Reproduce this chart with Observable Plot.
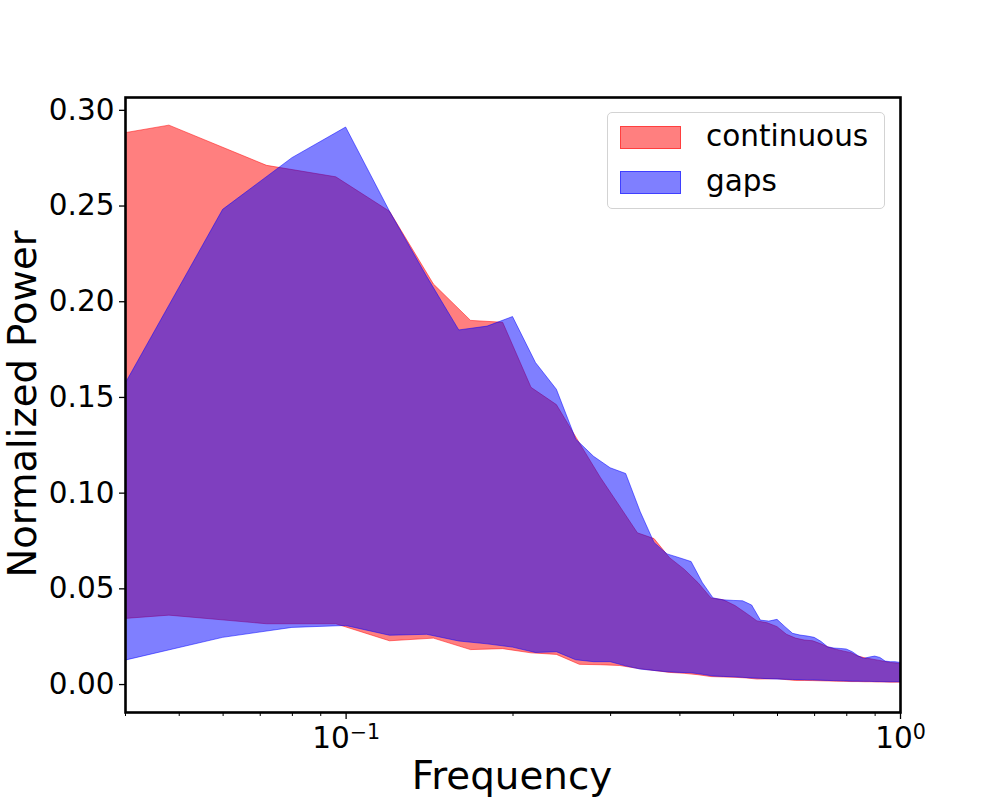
<!DOCTYPE html>
<html>
<head>
<meta charset="utf-8">
<script src="https://cdn.jsdelivr.net/npm/d3@7"></script>
<script src="https://cdn.jsdelivr.net/npm/@observablehq/plot@0.6"></script>
<style>
  body { margin: 0; background: #fff; }
  #wrap { position: relative; width: 1000px; height: 800px; font-family: "DejaVu Sans", sans-serif; }
  .legend { position: absolute; left: 607px; top: 112px; width: 278px; height: 97px; box-sizing: border-box;
            border: 1.3px solid #d3d3d3; border-radius: 5px; background: rgba(255,255,255,0.8); }
  .item { position: absolute; left: 12px; height: 24px; display: flex; align-items: center; }
  .patch { width: 61px; height: 23px; box-sizing: border-box; }
  .lab { margin-left: 25px; font-size: 29.5px; color: #000; line-height: 1; }
  .ylab { position: absolute; left: 23px; top: 404px; transform: translate(-50%, -50%) rotate(-90deg);
          font-size: 38.5px; white-space: nowrap; line-height: 1.1; }
  .xlab { position: absolute; left: 512px; top: 776px; transform: translate(-50%, -50%);
          font-size: 38.8px; white-space: nowrap; line-height: 1; }
</style>
</head>
<body>
<div id="wrap"></div>
<script>
// ---- data ----
const seriesNames = ["continuous", "gaps"];

const freqCont = [0.024, 0.048, 0.072, 0.096, 0.120, 0.144, 0.168, 0.192, 0.216, 0.240,
  0.264, 0.288, 0.312, 0.336, 0.360, 0.384, 0.408, 0.432, 0.456, 0.480,
  0.504, 0.528, 0.552, 0.576, 0.600, 0.624, 0.648, 0.672, 0.696, 0.720,
  0.744, 0.768, 0.792, 0.816, 0.840, 0.864, 0.888, 0.912, 0.936, 0.960,
  0.984, 1.008];
const contHigh = [0.277, 0.292, 0.271, 0.265, 0.247, 0.209, 0.190, 0.189, 0.155, 0.146,
  0.126, 0.108, 0.093, 0.079, 0.076, 0.066, 0.060, 0.053, 0.045, 0.044,
  0.041, 0.037, 0.033, 0.032, 0.030, 0.026, 0.024, 0.023, 0.0226, 0.021,
  0.0192, 0.0181, 0.0172, 0.0164, 0.0146, 0.0137, 0.0131, 0.0125, 0.0119, 0.0113,
  0.011, 0.0108];
const contLow = [0.0295, 0.036, 0.0315, 0.0315, 0.0226, 0.024, 0.018, 0.0185, 0.0163, 0.0155,
  0.0103, 0.0101, 0.0097, 0.0082, 0.0071, 0.0061, 0.0056, 0.0049, 0.0039, 0.0037,
  0.0035, 0.0032, 0.0026, 0.0027, 0.0028, 0.0023, 0.0019, 0.0019, 0.0018, 0.0017,
  0.0016, 0.0015, 0.0014, 0.0013, 0.0013, 0.0012, 0.0012, 0.0011, 0.0011, 0.001,
  0.001, 0.001];

const freqGaps = [0.04, 0.06, 0.08, 0.10, 0.12, 0.14, 0.16, 0.18, 0.20, 0.22,
  0.24, 0.26, 0.28, 0.30, 0.32, 0.34, 0.36, 0.38, 0.40, 0.42,
  0.44, 0.46, 0.48, 0.50, 0.52, 0.54, 0.56, 0.58, 0.60, 0.62,
  0.64, 0.66, 0.68, 0.70, 0.72, 0.74, 0.76, 0.78, 0.80, 0.82,
  0.84, 0.86, 0.88, 0.90, 0.92, 0.94, 0.96, 0.98, 1.00];
const gapsHigh = [0.157, 0.248, 0.275, 0.291, 0.247, 0.213, 0.185, 0.187, 0.192, 0.168,
  0.154, 0.128, 0.119, 0.113, 0.110, 0.090, 0.074, 0.068, 0.066, 0.064,
  0.053, 0.045, 0.044, 0.0437, 0.0435, 0.0413, 0.0334, 0.0329, 0.0338, 0.030,
  0.0265, 0.0256, 0.0251, 0.0244, 0.0223, 0.0195, 0.0188, 0.0186, 0.0183, 0.0169,
  0.0148, 0.0134, 0.0141, 0.0146, 0.0139, 0.012, 0.0117, 0.0117, 0.0113];
const gapsLow = [0.0125, 0.0244, 0.0296, 0.0306, 0.0255, 0.026, 0.0225, 0.021, 0.0193, 0.0165,
  0.0169, 0.0127, 0.0117, 0.0117, 0.0095, 0.0078, 0.0071, 0.0064, 0.0061, 0.0059,
  0.0051, 0.0042, 0.004, 0.0038, 0.0035, 0.0032, 0.003, 0.0028, 0.0026, 0.0025,
  0.0024, 0.0023, 0.0022, 0.0021, 0.002, 0.0019, 0.0018, 0.0017, 0.0016, 0.0015,
  0.0015, 0.0014, 0.0014, 0.0013, 0.0013, 0.0012, 0.0012, 0.0012, 0.0012];

const yTicks = [0.00, 0.05, 0.10, 0.15, 0.20, 0.25, 0.30];
const xMajorTicks = [0.1, 1];
const xMinorTicks = [0.04, 0.05, 0.06, 0.07, 0.08, 0.09, 0.2, 0.3, 0.4, 0.5, 0.6, 0.7, 0.8, 0.9];
const xLabel = "Frequency";
const yLabel = "Normalized Power";
const colors = ["#ff0000", "#0000ff"];

// ---- build tables ----
const cont = freqCont.map((f, i) => ({f, lo: contLow[i], hi: contHigh[i]}));
const gaps = freqGaps.map((f, i) => ({f, lo: gapsLow[i], hi: gapsHigh[i]}));

const chart = Plot.plot({
  width: 1000,
  height: 800,
  marginTop: 97,
  marginRight: 100,
  marginBottom: 88,
  marginLeft: 125,
  style: {fontFamily: "DejaVu Sans, sans-serif", background: "transparent", color: "#000"},
  x: {type: "log", domain: [0.04, 1]},
  y: {domain: [-0.0146, 0.3067]},
  marks: [
    Plot.areaY(cont, {x: "f", y1: "lo", y2: "hi", fill: colors[0], fillOpacity: 0.5,
      stroke: colors[0], strokeOpacity: 0.5, strokeWidth: 1, clip: true}),
    Plot.areaY(gaps, {x: "f", y1: "lo", y2: "hi", fill: colors[1], fillOpacity: 0.5,
      stroke: colors[1], strokeOpacity: 0.5, strokeWidth: 1, clip: true}),
    Plot.axisY({ticks: yTicks, tickFormat: d3.format(".2f"), tickSize: 6, tickPadding: 5,
      fontSize: 29.5, label: null, strokeWidth: 1.3}),
    Plot.axisX({ticks: xMinorTicks, tickFormat: () => "", tickSize: 4, label: null, strokeWidth: 1}),
    Plot.axisX({ticks: xMajorTicks, tickFormat: d => "10^" + Math.round(Math.log10(d)),
      tickSize: 7, tickPadding: 8, fontSize: 29.5, label: null, strokeWidth: 1.3}),
    Plot.frame({stroke: "#000", strokeWidth: 2.6})
  ]
});

// superscript exponents on the log-axis labels
d3.select(chart).selectAll("text").each(function () {
  const t = d3.select(this);
  const s = t.text();
  const m = /^10\^(-?\d+)$/.exec(s);
  if (m) {
    t.text(null);
    t.append("tspan").text("10");
    t.append("tspan").attr("dy", "-0.45em").attr("font-size", "0.7em")
      .text(m[1].replace("-", "\u2212"));
  }
});

const wrap = document.getElementById("wrap");
wrap.appendChild(chart);

const legend = document.createElement("div");
legend.className = "legend";
seriesNames.forEach((name, i) => {
  const item = document.createElement("div");
  item.className = "item";
  item.style.top = (12 + i * 45) + "px";
  const p = document.createElement("div");
  p.className = "patch";
  p.style.background = i === 0 ? "rgba(255,0,0,0.5)" : "rgba(0,0,255,0.5)";
  p.style.border = "1px solid " + (i === 0 ? "rgba(255,0,0,0.5)" : "rgba(0,0,255,0.5)");
  const l = document.createElement("span");
  l.className = "lab";
  l.textContent = name;
  item.appendChild(p);
  item.appendChild(l);
  legend.appendChild(item);
});
wrap.appendChild(legend);

const xl = document.createElement("div");
xl.className = "xlab"; xl.textContent = xLabel; wrap.appendChild(xl);
const yl = document.createElement("div");
yl.className = "ylab"; yl.textContent = yLabel; wrap.appendChild(yl);
</script>
</body>
</html>
